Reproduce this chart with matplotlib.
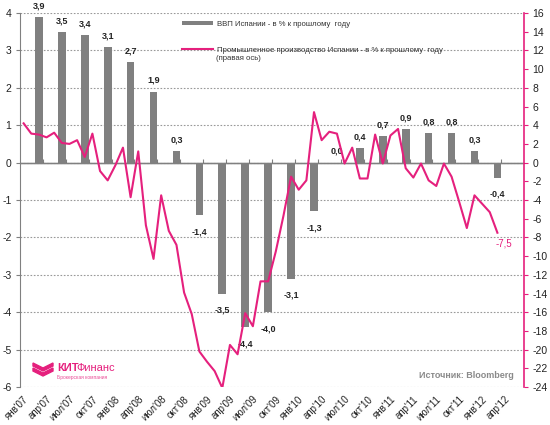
import matplotlib
matplotlib.use("Agg")
import matplotlib.pyplot as plt
import numpy as np
from matplotlib.patches import Polygon

plt.rcParams['font.family'] = ['Liberation Sans', 'DejaVu Sans']
plt.rcParams['axes.unicode_minus'] = False

# GDP of Spain, % y/y, quarterly (Q1 2007 .. Q1 2012), placed at quarter-end month
gdp = [3.9, 3.5, 3.4, 3.1, 2.7, 1.9, 0.3, -1.4, -3.5, -4.4, -4.0,
       -3.1, -1.3, 0.0, 0.4, 0.7, 0.9, 0.8, 0.8, 0.3, -0.4]
gdp_month = list(range(2, 63, 3))

# Industrial production of Spain, % y/y, monthly (Jan 2007 .. Mar 2012)
ip = [4.2, 3.1, 3.0, 2.7, 3.2, 2.1, 2.0, 2.4, 0.6, 3.1, -0.9, -1.9,
      -0.3, 1.6, -3.7, 1.2, -6.7, -10.3, -3.5, -7.3, -8.8, -13.9, -16.2, -20.2,
      -21.3, -22.3, -24.1, -19.5, -20.5, -16.1, -17.5, -12.7, -12.7, -9.5, -5.7, -1.5,
      -2.9, -1.9, 5.4, 2.4, 3.3, 3.1, -0.1, 1.6, -1.7, -1.7, 3.0, -0.1,
      2.9, 3.6, -0.6, -1.6, -0.1, -1.9, -2.5, -0.1, -1.5, -4.2, -7.0, -3.5,
      -4.4, -5.3, -7.5]
ip_month = list(range(len(ip)))

months = ["янв", "апр", "июл", "окт"]
tick_labels = [f"{months[q % 4]}'{7 + q // 4:02d}" for q in range(22)]
tick_pos = list(range(0, 66, 3))

gray = '#808080'
pink = '#E5207D'

fig = plt.figure(figsize=(5.5, 4.25), dpi=100)
ax = fig.add_axes([0.036, 0.0894, 0.917, 0.88])
ax.set_axisbelow(True)
ax2 = ax.twinx()

ax.bar(gdp_month, gdp, width=1.0, color=gray, zorder=3,
       label="ВВП Испании - в % к прошлому  году")
ax2.plot(ip_month, ip, color=pink, lw=1.5, zorder=4,
         label="Промышленное производство Испании - в % к прошлому  году")

for m, v in zip(gdp_month, gdp):
    txt = f"{v:.1f}".replace('.', ',')
    off = 8 if v >= 0 else -12
    ax.annotate(txt, (m, v), xytext=(0, off), textcoords='offset points',
                ha='center', va='center', fontsize=6.5, fontweight='bold', color='#222222')

last = ip[-1]
ax2.annotate(f"{last:.1f}".replace('.', ','), (ip_month[-1], last), xytext=(5, -8),
             textcoords='offset points', ha='center', va='center', fontsize=7, color=pink)

ax.set_xlim(-0.5, 65.5)
ax.set_ylim(-6, 4)
ax2.set_ylim(-24, 16)
ax.set_yticks(np.arange(-6, 5, 1))
ax2.set_yticks(np.arange(-24, 17, 2))

ax.grid(axis='y', color='#999999', ls=(0, (1.5, 1.5)), lw=0.8)
ax.axhline(0, color=gray, lw=1.0, zorder=2)

ax.set_xticks(tick_pos)
ax.set_xticklabels(tick_labels, rotation=45, ha='right', rotation_mode='anchor', fontsize=7)
ax.tick_params(axis='x', length=0, pad=5, colors='#222222')
ax.tick_params(axis='y', length=3, labelsize=7.5, colors='#222222', pad=3)
ax.tick_params(axis='y', color=gray)
ax2.tick_params(axis='y', length=3, labelsize=7.5, labelcolor='#222222', color=pink, pad=3)

sec = ax.secondary_xaxis(0.6)
sec.set_xticks([x + 0.5 for x in range(2, 63, 3)])
sec.set_xticklabels([])
sec.tick_params(length=3, color=gray)
sec.spines['bottom'].set_visible(False)

for s in ['top', 'bottom', 'right']:
    ax.spines[s].set_visible(False)
ax.spines['left'].set_color(gray)
for s in ['top', 'bottom', 'left']:
    ax2.spines[s].set_visible(False)
ax2.spines['right'].set_color(pink)
ax2.spines['right'].set_linewidth(1.2)

h1, l1 = ax.get_legend_handles_labels()
h2, l2 = ax2.get_legend_handles_labels()
leg = ax2.legend(h1 + h2, l1 + l2, loc='upper left', bbox_to_anchor=(0.308, 0.998),
                 frameon=False, fontsize=5.6, handlelength=4.0, handleheight=0.45,
                 labelspacing=2.45, handletextpad=0.45)
for t in leg.get_texts():
    t.set_color('#333333')

fx = lambda x: x / 550
fy = lambda y: 1 - y / 425
fig.text(fx(216), fy(58), "(правая ось)", fontsize=5.6, color='#333333', va='center')

# broker logo
for dy in (0, 5):
    fig.patches.append(Polygon([(fx(33), fy(363 + dy)), (fx(43), fy(368 + dy)), (fx(53), fy(363 + dy)),
                                (fx(53), fy(366 + dy)), (fx(43), fy(371 + dy)), (fx(33), fy(366 + dy))],
                               closed=True, transform=fig.transFigure, color=pink))
kit = fig.text(fx(57), fy(368), "КИТ", color=pink, fontsize=8, fontweight='bold', va='center')
ax.annotate("Финанс", xy=(1, 0.5), xycoords=kit, xytext=(-1.5, 0), textcoords='offset points',
            va='center', ha='left', fontsize=8, color=pink, annotation_clip=False)
fig.text(fx(57), fy(378), "Брокерская компания", color=pink, fontsize=3.5, va='center', alpha=0.8)

fig.text(fx(514), fy(375), "Источник: Bloomberg", color='#8a8a8a', fontsize=6.5,
         fontweight='bold', ha='right', va='center')

fig.savefig('out.png', dpi=100)
